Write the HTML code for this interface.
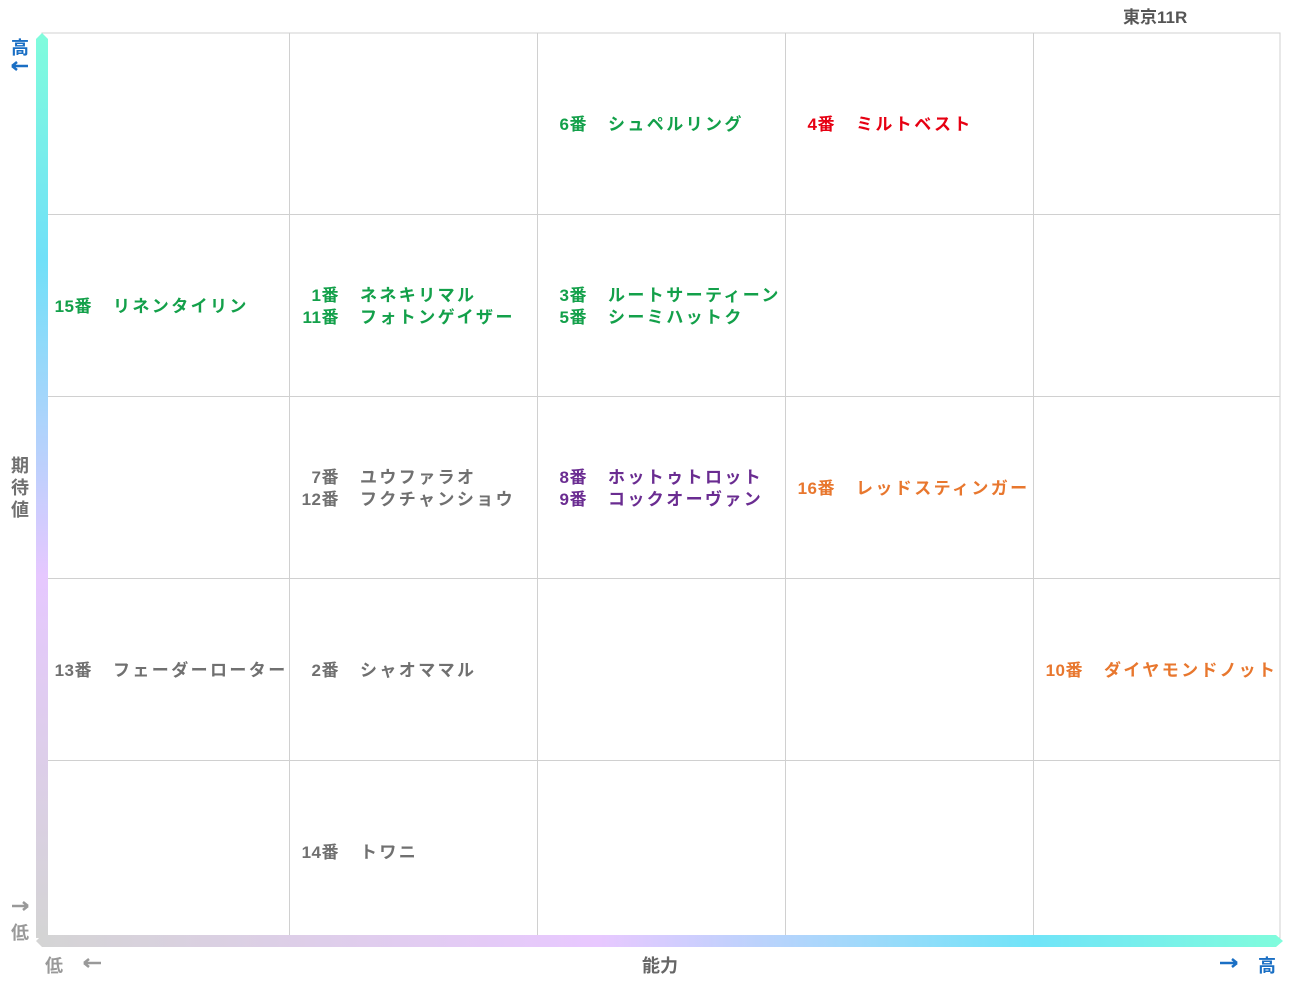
<!DOCTYPE html>
<html><head><meta charset="utf-8"><style>
body{margin:0;width:1291px;height:983px;background:#fff;position:relative;overflow:hidden;font-family:"Liberation Sans","Noto Sans CJK JP",sans-serif;font-weight:bold}
.a{position:absolute}
.l{position:absolute;font-size:17px;letter-spacing:2.4px;white-space:nowrap;line-height:22px}
.n{display:inline-block;width:50px;text-align:right;letter-spacing:0.5px;margin-right:21px}
.g{color:#13a04a}.r{color:#e60012}.p{color:#6a2c91}.o{color:#e8772e}.k{color:#707070}
</style></head><body>
<svg class="a" style="left:0;top:0" width="1291" height="983">
<defs>
<linearGradient id="v" x1="0" y1="0" x2="0" y2="1"><stop offset="0" stop-color="#80fcdc"/><stop offset="0.25" stop-color="#70e0f8"/><stop offset="0.6" stop-color="#e6c8ff"/><stop offset="1" stop-color="#d4d4d4"/></linearGradient>
<linearGradient id="h" x1="0" y1="0" x2="1" y2="0"><stop offset="0" stop-color="#d4d4d4"/><stop offset="0.45" stop-color="#e8c8ff"/><stop offset="0.8" stop-color="#70e4f8"/><stop offset="1" stop-color="#80fcdc"/></linearGradient>
</defs>
<rect x="42" y="33" width="1238" height="905" fill="none" stroke="#d0d0d0"/>
<g stroke="#d0d0d0"><line x1="289.5" y1="33" x2="289.5" y2="938"/><line x1="537.5" y1="33" x2="537.5" y2="938"/><line x1="785.5" y1="33" x2="785.5" y2="938"/><line x1="1033.5" y1="33" x2="1033.5" y2="938"/>
<line x1="42" y1="214.5" x2="1280" y2="214.5"/><line x1="42" y1="396.5" x2="1280" y2="396.5"/><line x1="42" y1="578.5" x2="1280" y2="578.5"/><line x1="42" y1="760.5" x2="1280" y2="760.5"/></g>
<polygon points="36,938 36,39 42,33 48,39 48,938" fill="url(#v)"/>
<polygon points="36,941 42,935 1276,935 1283,941 1276,947 42,947" fill="url(#h)"/>
<g stroke-width="2.5" fill="none">
<path d="M12 66 H28 M12 66 L17 62 M12 66 L17 70" stroke="#1a6fc4"/>
<path d="M12 906 H28 M28 906 L23 902 M28 906 L23 910" stroke="#999"/>
<path d="M84 963 H101 M84 963 L89 959 M84 963 L89 967" stroke="#999"/>
<path d="M1220 963 H1237 M1237 963 L1232 959 M1237 963 L1232 967" stroke="#1a6fc4"/>
</g>
</svg>
<div class="a" style="left:11px;top:34px;font-size:18px;color:#1a6fc4">高</div>
<div class="a" style="left:1123px;top:3px;font-size:17px;color:#555">東京11R</div>
<div class="a" style="left:11px;top:455px;font-size:18px;color:#707070;line-height:22px;width:18px">期<br>待<br>値</div>
<div class="a" style="left:11px;top:919px;font-size:18px;color:#999">低</div>
<div class="a" style="left:45px;top:952px;font-size:18px;color:#999">低</div>
<div class="a" style="left:642px;top:952px;font-size:18px;color:#666">能力</div>
<div class="a" style="left:1258px;top:952px;font-size:18px;color:#1a6fc4">高</div>

<div class="l g" style="left:537px;top:114px"><span class="n">6番</span>シュペルリング</div>
<div class="l r" style="left:785px;top:114px"><span class="n">4番</span>ミルトベスト</div>
<div class="l g" style="left:42px;top:296px"><span class="n">15番</span>リネンタイリン</div>
<div class="l g" style="left:289px;top:285px"><span class="n">1番</span>ネネキリマル</div>
<div class="l g" style="left:289px;top:307px"><span class="n">11番</span>フォトンゲイザー</div>
<div class="l g" style="left:537px;top:285px"><span class="n">3番</span>ルートサーティーン</div>
<div class="l g" style="left:537px;top:307px"><span class="n">5番</span>シーミハットク</div>
<div class="l k" style="left:289px;top:467px"><span class="n">7番</span>ユウファラオ</div>
<div class="l k" style="left:289px;top:489px"><span class="n">12番</span>フクチャンショウ</div>
<div class="l p" style="left:537px;top:467px"><span class="n">8番</span>ホットゥトロット</div>
<div class="l p" style="left:537px;top:489px"><span class="n">9番</span>コックオーヴァン</div>
<div class="l o" style="left:785px;top:478px"><span class="n">16番</span>レッドスティンガー</div>
<div class="l k" style="left:42px;top:660px"><span class="n">13番</span>フェーダーローター</div>
<div class="l k" style="left:289px;top:660px"><span class="n">2番</span>シャオママル</div>
<div class="l o" style="left:1033px;top:660px"><span class="n">10番</span>ダイヤモンドノット</div>
<div class="l k" style="left:289px;top:842px"><span class="n">14番</span>トワニ</div>
</body></html>
